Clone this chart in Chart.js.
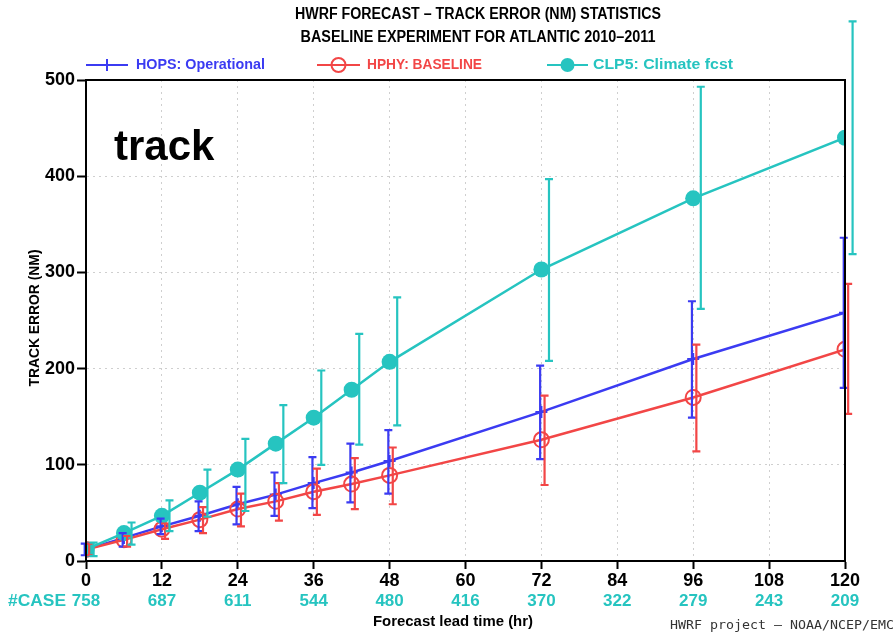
<!DOCTYPE html>
<html>
<head>
<meta charset="utf-8">
<script src="https://cdn.jsdelivr.net/npm/chart.js@4"></script>
<style>
	html, body { margin: 0; padding: 0; background: #fff; }
	#wrap { position: relative; width: 896px; height: 634px; }
</style>
</head>
<body>
<div id="wrap"><canvas id="chart"></canvas></div>
<script>
// Forecast lead times (hr) where the three models are verified
var hours = [0, 6, 12, 18, 24, 30, 36, 42, 48, 72, 96, 120];

// HOPS: Operational
var hopsMean = [12, 24, 36, 47, 59, 69, 81, 92, 104, 155, 210, 258];
var hopsLow = [6, 15, 28, 31, 38, 47, 55, 61, 70, 106, 149, 180];
var hopsHigh = [18, 29, 44, 62, 77, 92, 108, 122, 136, 203, 270, 336];

// HPHY: BASELINE
var hphyMean = [12, 22, 33, 43, 54, 62, 72, 80, 89, 126, 170, 220];
var hphyLow = [6, 15, 23, 29, 36, 42, 48, 54, 59, 79, 114, 153];
var hphyHigh = [18, 26, 39, 56, 70, 81, 96, 107, 118, 172, 225, 288];

// CLP5: Climate fcst
var clp5Mean = [12, 29, 47, 71, 95, 122, 149, 178, 207, 303, 377, 440];
var clp5Low = [5, 17, 31, 46, 52, 81, 100, 121, 141, 208, 262, 319];
var clp5High = [19, 40, 63, 95, 127, 162, 198, 236, 274, 397, 493, 561];

// Number of verified cases shown under the x axis
var caseHours = [0, 12, 24, 36, 48, 60, 72, 84, 96, 108, 120];
var caseCounts = [758, 687, 611, 544, 480, 416, 370, 322, 279, 243, 209];

var BLUE = "#3b3bf2";
var RED = "#f24646";
var CYAN = "#26c4c0";
var FONT = '"Liberation Sans", Arial, sans-serif';
var MONO = '"DejaVu Sans Mono", "Liberation Mono", monospace';

function points(values) {
	var out = [];
	for (var i = 0; i < hours.length; i++) out.push({ x: hours[i], y: values[i] });
	return out;
}

// Draw text squeezed or stretched horizontally to a given width
function fitText(ctx, text, x, y, width, align) {
	var w = ctx.measureText(text).width;
	ctx.save();
	ctx.translate(x, y);
	ctx.scale(width / w, 1);
	ctx.textAlign = align || "left";
	ctx.fillText(text, 0, 0);
	ctx.restore();
}

function drawMarker(ctx, kind, x, y, color) {
	ctx.save();
	ctx.strokeStyle = color;
	ctx.fillStyle = color;
	ctx.lineWidth = 2;
	ctx.beginPath();
	if (kind === "cross") {
		ctx.moveTo(x - 6, y); ctx.lineTo(x + 6, y);
		ctx.moveTo(x, y - 6); ctx.lineTo(x, y + 6);
		ctx.stroke();
	} else if (kind === "ring") {
		ctx.arc(x, y, 7, 0, Math.PI * 2);
		ctx.stroke();
	} else {
		ctx.arc(x, y, 7, 0, Math.PI * 2);
		ctx.fill();
	}
	ctx.restore();
}

// Error bars, offset a little in time per model as on the original plot
var errorSeries = [
	{ low: hopsLow, high: hopsHigh, color: BLUE, shift: -0.2 },
	{ low: hphyLow, high: hphyHigh, color: RED, shift: 0.5 },
	{ low: clp5Low, high: clp5High, color: CYAN, shift: 1.2 }
];

var decorations = {
	id: "decorations",
	afterDatasetsDraw: function(chart) {
		var ctx = chart.ctx;
		var xs = chart.scales.x, ys = chart.scales.y;
		ctx.save();
		ctx.lineWidth = 2.2;
		for (var s = 0; s < errorSeries.length; s++) {
			var e = errorSeries[s];
			ctx.strokeStyle = e.color;
			for (var i = 0; i < hours.length; i++) {
				var px = xs.getPixelForValue(hours[i] + e.shift);
				var y1 = ys.getPixelForValue(e.low[i]);
				var y2 = ys.getPixelForValue(e.high[i]);
				ctx.beginPath();
				ctx.moveTo(px, y1); ctx.lineTo(px, y2);
				ctx.moveTo(px - 4, y1); ctx.lineTo(px + 4, y1);
				ctx.moveTo(px - 4, y2); ctx.lineTo(px + 4, y2);
				ctx.stroke();
			}
		}
		ctx.restore();
	},
	afterDraw: function(chart) {
		var ctx = chart.ctx;
		var a = chart.chartArea;
		var xs = chart.scales.x;
		ctx.save();

		// frame
		ctx.strokeStyle = "#000";
		ctx.lineWidth = 2;
		ctx.strokeRect(a.left, a.top, a.right - a.left, a.bottom - a.top);

		// titles
		ctx.fillStyle = "#000";
		ctx.textBaseline = "middle";
		ctx.font = "bold 16px " + FONT;
		fitText(ctx, "HWRF FORECAST \u2013 TRACK ERROR (NM) STATISTICS", 478, 15, 366, "center");
		fitText(ctx, "BASELINE EXPERIMENT FOR ATLANTIC 2010\u20132011", 478, 38, 355, "center");

		// legend
		var legend = [
			{ text: "HOPS: Operational", color: BLUE, kind: "cross", x0: 86, x1: 128, tx: 136, tw: 129 },
			{ text: "HPHY: BASELINE", color: RED, kind: "ring", x0: 317, x1: 360, tx: 367, tw: 115 },
			{ text: "CLP5: Climate fcst", color: CYAN, kind: "dot", x0: 547, x1: 588, tx: 593, tw: 140 }
		];
		ctx.font = "bold 14px " + FONT;
		for (var i = 0; i < legend.length; i++) {
			var l = legend[i];
			ctx.strokeStyle = l.color;
			ctx.lineWidth = 2;
			ctx.beginPath();
			ctx.moveTo(l.x0, 65); ctx.lineTo(l.x1, 65);
			ctx.stroke();
			drawMarker(ctx, l.kind, (l.x0 + l.x1) / 2, 65, l.color);
			ctx.fillStyle = l.color;
			fitText(ctx, l.text, l.tx, 65, l.tw, "left");
		}

		// panel label
		ctx.fillStyle = "#000";
		ctx.textBaseline = "alphabetic";
		ctx.font = "bold 42px " + FONT;
		ctx.fillText("track", 114, 160);

		// y axis title
		ctx.save();
		ctx.translate(35, 318);
		ctx.rotate(-Math.PI / 2);
		ctx.textBaseline = "middle";
		ctx.font = "bold 14px " + FONT;
		fitText(ctx, "TRACK ERROR (NM)", 0, 0, 137, "center");
		ctx.restore();

		// case counts
		ctx.fillStyle = CYAN;
		ctx.textBaseline = "middle";
		ctx.font = "bold 17px " + FONT;
		fitText(ctx, "#CASE", 8, 601, 58, "left");
		ctx.textAlign = "center";
		for (var c = 0; c < caseHours.length; c++) {
			ctx.fillText(String(caseCounts[c]), xs.getPixelForValue(caseHours[c]), 601);
		}

		// axis title and credit
		ctx.fillStyle = "#000";
		ctx.font = "bold 14px " + FONT;
		fitText(ctx, "Forecast lead time (hr)", 453, 622, 160, "center");
		ctx.fillStyle = "#333";
		ctx.font = "13px " + MONO;
		fitText(ctx, "HWRF project \u2013 NOAA/NCEP/EMC", 670, 626, 224, "left");

		ctx.restore();
	}
};

new Chart(document.getElementById("chart"), {
	type: "line",
	data: {
		datasets: [
			{
				label: "HOPS: Operational",
				data: points(hopsMean),
				borderColor: BLUE,
				backgroundColor: BLUE,
				borderWidth: 2.5,
				pointStyle: "cross",
				pointRadius: 6,
				pointBorderWidth: 2,
				tension: 0,
				order: 3
			},
			{
				label: "HPHY: BASELINE",
				data: points(hphyMean),
				borderColor: RED,
				backgroundColor: "rgba(0,0,0,0)",
				borderWidth: 2.5,
				pointStyle: "circle",
				pointRadius: 7.5,
				pointBorderWidth: 2,
				tension: 0,
				order: 2
			},
			{
				label: "CLP5: Climate fcst",
				data: points(clp5Mean),
				borderColor: CYAN,
				backgroundColor: CYAN,
				borderWidth: 2.5,
				pointStyle: "circle",
				pointRadius: 8,
				pointBorderWidth: 0,
				tension: 0,
				order: 1
			}
		]
	},
	options: {
		responsive: true,
		maintainAspectRatio: false,
		animation: false,
		layout: { padding: { top: 80, right: 51, bottom: 0, left: 0 } },
		scales: {
			x: {
				type: "linear",
				min: 0,
				max: 120,
				afterFit: function(scale) { scale.height = 73; },
				ticks: {
					stepSize: 12,
					color: "#000",
					padding: 1,
					font: { family: FONT, size: 18, weight: "bold" }
				},
				grid: {
					color: "#cfcfcf",
					tickColor: "#000",
					tickLength: 8,
					tickWidth: 2,
					tickBorderDash: [1, 0]
				},
				border: { color: "#000", width: 2, dash: [2, 4] }
			},
			y: {
				min: 0,
				max: 500,
				afterFit: function(scale) { scale.width = 86; },
				ticks: {
					stepSize: 100,
					color: "#000",
					padding: 2,
					font: { family: FONT, size: 18, weight: "bold" }
				},
				grid: {
					color: "#cfcfcf",
					tickColor: "#000",
					tickLength: 9,
					tickWidth: 2,
					tickBorderDash: [1, 0]
				},
				border: { color: "#000", width: 2, dash: [2, 4] }
			}
		},
		plugins: {
			legend: { display: false },
			title: { display: false },
			tooltip: { enabled: false }
		}
	},
	plugins: [decorations]
});
</script>
</body>
</html>
